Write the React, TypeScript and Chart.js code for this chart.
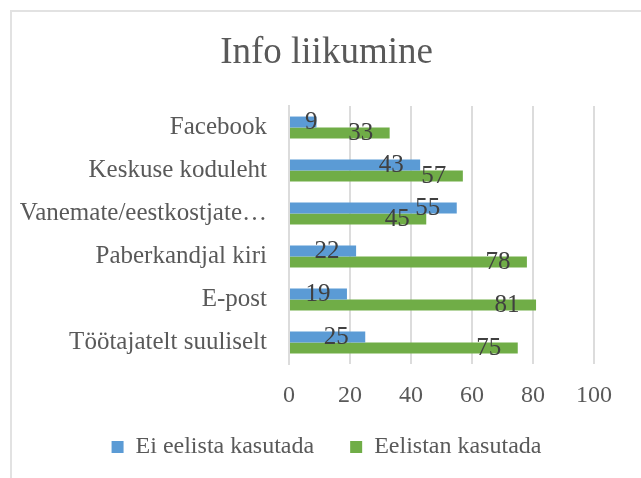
import { useEffect, useRef } from 'react';
import { Chart, registerables } from 'chart.js';

Chart.register(...registerables);

const chartTitle = 'Info liikumine';
const categories = [
  'Facebook',
  'Keskuse koduleht',
  'Vanemate/eestkostjate…',
  'Paberkandjal kiri',
  'E-post',
  'Töötajatelt suuliselt',
];
const seriesNames = ['Ei eelista kasutada', 'Eelistan kasutada'];
const eiEelista = [9, 43, 55, 22, 19, 25];
const eelistan = [33, 57, 45, 78, 81, 75];
const xTicks = [0, 20, 40, 60, 80, 100];

const SERIF = "'Liberation Serif', 'Times New Roman', serif";
const TEXT = '#595959';
const GRID = '#dcdcdc';
const LEGEND_FONT = 24;
const LEGEND_TEXT_MIDDLE = 447;

const dataLabels = {
  id: 'dataLabels',
  afterDatasetsDraw(chart: any) {
    const ctx = chart.ctx;
    const x0 = chart.scales.x.getPixelForValue(0);
    ctx.save();
    ctx.font = `25px ${SERIF}`;
    ctx.fillStyle = '#404040';
    ctx.textAlign = 'left';
    ctx.textBaseline = 'middle';
    chart.data.datasets.forEach((ds: any, di: number) => {
      const meta = chart.getDatasetMeta(di);
      meta.data.forEach((bar: any, i: number) => {
        const text = String(ds.data[i]);
        const w = ctx.measureText(text).width;
        const left = Math.max(bar.x - 29 - w / 2, x0 + 16);
        ctx.fillText(text, left, bar.y + 0.5);
      });
    });
    ctx.restore();
  },
};

// move the legend row so its text sits where the reference has it
const legendPlace = {
  id: 'legendPlace',
  afterLayout(chart: any) {
    const L = chart.legend;
    if (!L) return;
    const cur = L.top + L.options.labels.padding + LEGEND_FONT / 2;
    const d = LEGEND_TEXT_MIDDLE - cur;
    L.top += d;
    L.bottom += d;
  },
};

export default function App() {
  const ref = useRef<HTMLCanvasElement | null>(null);

  useEffect(() => {
    if (!ref.current) return;
    const chart = new Chart(ref.current, {
      type: 'bar',
      data: {
        labels: categories,
        datasets: [
          {
            label: seriesNames[0],
            data: eiEelista,
            backgroundColor: '#5B9BD5',
            borderColor: '#5B9BD5',
            borderWidth: 0,
            categoryPercentage: 0.51,
            barPercentage: 1,
          },
          {
            label: seriesNames[1],
            data: eelistan,
            backgroundColor: '#70AD47',
            borderColor: '#70AD47',
            borderWidth: 0,
            categoryPercentage: 0.51,
            barPercentage: 1,
          },
        ],
      },
      options: {
        indexAxis: 'y',
        animation: false,
        responsive: true,
        maintainAspectRatio: false,
        layout: { padding: { left: 12, right: 0, top: 0, bottom: 0 } },
        plugins: {
          title: {
            display: true,
            text: chartTitle,
            color: TEXT,
            font: { family: SERIF, size: 37, weight: 'normal' },
            padding: { top: 31.4, bottom: 30.2 },
          },
          legend: {
            display: true,
            position: 'bottom',
            labels: {
              boxWidth: 12,
              boxHeight: 12,
              padding: 36,
              color: TEXT,
              font: { family: SERIF, size: LEGEND_FONT },
            },
          },
          tooltip: { enabled: false },
        },
        scales: {
          x: {
            type: 'linear',
            position: 'bottom',
            min: 0,
            max: 100,
            afterBuildTicks: (s: any) => {
              s.ticks = xTicks.map((v) => ({ value: v }));
            },
            afterFit: (s: any) => {
              s.height = 44;
            },
            grid: { display: true, color: GRID, lineWidth: 2, drawTicks: false },
            border: { display: false },
            ticks: {
              color: TEXT,
              padding: 17,
              font: { family: SERIF, size: 24 },
            },
          },
          y: {
            type: 'category',
            position: 'left',
            afterFit: (s: any) => {
              s.width = 277;
            },
            grid: { display: false, drawTicks: false },
            border: { display: true, color: GRID, width: 2 },
            ticks: {
              color: TEXT,
              padding: 22,
              autoSkip: false,
              font: { family: SERIF, size: 25 },
            },
          },
          yRight: {
            type: 'linear',
            axis: 'y',
            position: 'right',
            display: true,
            afterFit: (s: any) => {
              s.width = 47;
            },
            grid: { display: false, drawTicks: false },
            border: { display: false },
            ticks: { display: false },
          },
        },
      },
      plugins: [dataLabels, legendPlace],
    } as any);
    return () => chart.destroy();
  }, []);

  return (
    <div
      style={{
        position: 'fixed',
        left: 0,
        top: 0,
        width: 641,
        height: 478,
        overflow: 'hidden',
        background: '#ffffff',
      }}
    >
      <div
        style={{
          position: 'absolute',
          left: 10,
          top: 10,
          width: 700,
          height: 600,
          borderTop: '2px solid #e2e2e2',
          borderLeft: '2px solid #e2e2e2',
          pointerEvents: 'none',
        }}
      />
      <div style={{ position: 'absolute', left: 0, top: 0, width: 641, height: 478 }}>
        <canvas ref={ref} />
      </div>
    </div>
  );
}
